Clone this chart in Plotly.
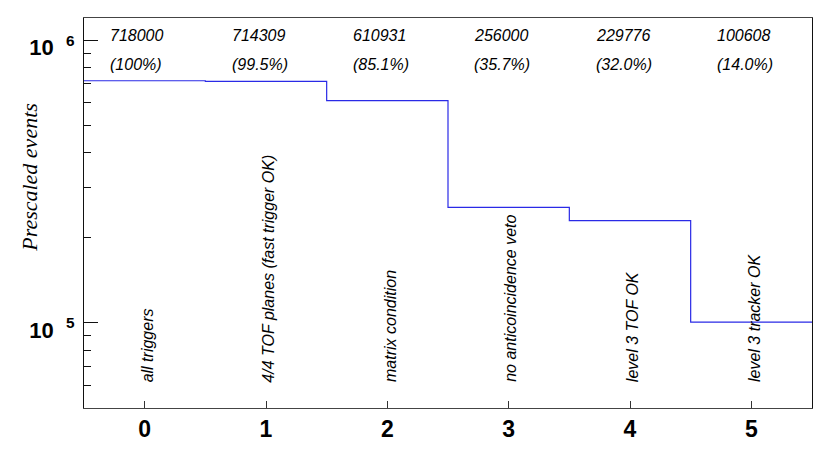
import plotly.graph_objects as go

bins = [0, 1, 2, 3, 4, 5]
events = [718000, 714309, 610931, 256000, 229776, 100608]
percent_labels = ["(100%)", "(99.5%)", "(85.1%)", "(35.7%)", "(32.0%)", "(14.0%)"]
cut_names = ["all triggers", "4/4 TOF planes (fast trigger OK)", "matrix condition",
             "no anticoincidence veto", "level 3 TOF OK", "level 3 tracker OK"]
y_major = [1e5, 1e6]
y_major_text = ["<b>10</b>&nbsp; <sup><b>5</b></sup>", "<b>10</b>&nbsp; <sup><b>6</b></sup>"]
y_minor = [m * 10 ** e for e in (4, 5) for m in range(2, 10)]

# step outline: bin edges
edges = [b - 0.5 for b in bins] + [bins[-1] + 0.5]
step_y = events + [events[-1]]

fig = go.Figure()
fig.add_trace(go.Scatter(x=edges, y=step_y, mode="lines", line_shape="hv",
                         line=dict(color="#2a2ae6", width=1.2), hoverinfo="skip",
                         showlegend=False))

font_sans = "Liberation Sans, Arial, Helvetica, sans-serif"
ann = []
for b, n, p, name in zip(bins, events, percent_labels, cut_names):
    ann.append(dict(x=b - 0.30, y=0.955, xref="x", yref="paper", text=f"<i>{n}</i>",
                    showarrow=False, xanchor="left", yanchor="middle",
                    font=dict(family=font_sans, size=16, color="black")))
    ann.append(dict(x=b - 0.30, y=0.881, xref="x", yref="paper", text=f"<i>{p}</i>",
                    showarrow=False, xanchor="left", yanchor="middle",
                    font=dict(family=font_sans, size=16, color="black")))
    ann.append(dict(x=b + 0.02, y=4.783, xref="x", yref="y", text=f"<i>{name}</i>",
                    showarrow=False, textangle=-90, xanchor="center", yanchor="bottom",
                    font=dict(family=font_sans, size=16, color="black")))
ann.append(dict(x=-0.076, y=0.592, xref="paper", yref="paper", text="<i>Prescaled events</i>",
                showarrow=False, textangle=-90, xanchor="center", yanchor="middle",
                font=dict(family="Liberation Serif, Times New Roman, serif", size=22, color="black")))

fig.update_layout(
    width=830, height=461,
    margin=dict(l=76, r=26, t=10, b=61, autoexpand=False),
    paper_bgcolor="white", plot_bgcolor="white",
    annotations=ann,
    xaxis=dict(range=[-0.5, 5.5], tickvals=bins, ticktext=[f"<b>{b}</b>" for b in bins],
               ticks="inside", ticklen=7, tickcolor="#333", showgrid=False, zeroline=False,
               showline=True, linecolor="#444", linewidth=1, mirror=True, automargin=False,
               tickfont=dict(family=font_sans, size=23, color="black")),
    yaxis=dict(type="log", range=[4.699, 6.078], tickvals=y_major, ticktext=y_major_text,
               ticks="inside", ticklen=14, tickcolor="#111", showgrid=False, zeroline=False,
               showline=True, linecolor="#111", linewidth=1, mirror=True, automargin=False,
               ticklabelshift=7, ticklabelstandoff=4,
               minor=dict(tickvals=y_minor, ticks="inside", ticklen=7, tickcolor="#111",
                          showgrid=False),
               tickfont=dict(family=font_sans, size=22, color="black")),
)

fig.write_html("out.html")
